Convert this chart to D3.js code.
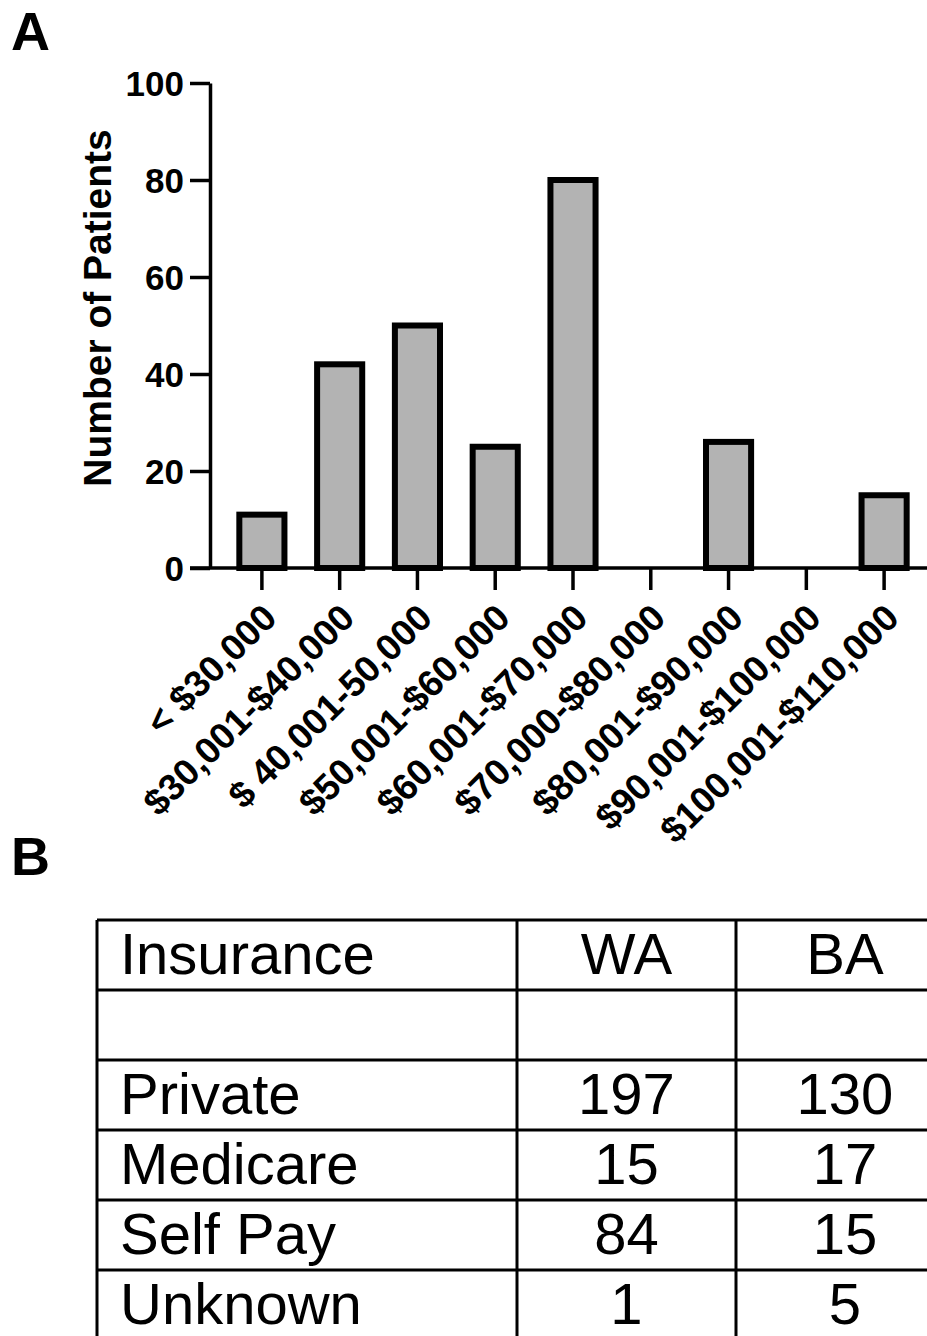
<!DOCTYPE html>
<html>
<head>
<meta charset="utf-8">
<script src="https://cdn.jsdelivr.net/npm/d3@7"></script>
<style>
  body { margin: 0; background: #fff; }
  svg { display: block; font-family: "Liberation Sans", Arial, sans-serif; }
</style>
</head>
<body>
<svg width="927" height="1336"></svg>
<script>
// income brackets and patient counts (panel A)
const incomeBrackets = [
  "< $30,000", "$30,001-$40,000", "$ 40,001-50,000", "$50,001-$60,000",
  "$60,001-$70,000", "$70,000-$80,000", "$80,001-$90,000",
  "$90,001-$100,000", "$100,001-$110,000"
];
const patientCounts = [11, 42, 50, 25, 80, 0, 26, 0, 15];
const yTicks = [0, 20, 40, 60, 80, 100];

// insurance table (panel B)
const tableHeader = ["Insurance", "WA", "BA"];
const insuranceTypes = ["", "Private", "Medicare", "Self Pay", "Unknown"];
const waCounts = ["", 197, 15, 84, 1];
const baCounts = ["", 130, 17, 15, 5];

const svg = d3.select("svg");

// panel letters
svg.append("text").attr("x", 11).attr("y", 50)
  .style("font-size", "54px").style("font-weight", "bold").text("A");
svg.append("text").attr("x", 11).attr("y", 875)
  .style("font-size", "54px").style("font-weight", "bold").text("B");

// ---- bar chart ----
const axisX = 210;
const y = d3.scaleLinear().domain([0, 100]).range([568, 83]);
const x = d3.scaleBand()
  .domain(incomeBrackets)
  .range([223, 923])
  .paddingInner(0.42)
  .paddingOuter(0.21);

const chart = svg.append("g");

// bars
chart.selectAll("rect")
  .data(incomeBrackets.map((c, i) => ({ c, v: patientCounts[i] })).filter(d => d.v > 0))
  .enter()
  .append("rect")
  .attr("x", d => x(d.c))
  .attr("y", d => y(d.v))
  .attr("width", x.bandwidth())
  .attr("height", d => y(0) - y(d.v))
  .style("fill", "#b3b3b3")
  .style("stroke", "#000")
  .style("stroke-width", 6);

// y axis
const yAxis = chart.append("g")
  .attr("transform", `translate(${axisX},0)`)
  .call(d3.axisLeft(y).tickValues(yTicks).tickSize(20).tickSizeOuter(0).tickPadding(6));
yAxis.select(".domain").style("stroke-width", 3.5);
yAxis.selectAll(".tick line").style("stroke-width", 3.5);
yAxis.selectAll(".tick text")
  .style("font-size", "35px").style("font-weight", "bold")
  .attr("dy", "0.36em");

// x axis
const xAxis = chart.append("g")
  .attr("transform", `translate(0,${y(0)})`)
  .call(d3.axisBottom(x).tickSize(22).tickSizeOuter(0));
xAxis.select(".domain").remove();
xAxis.append("line")
  .attr("x1", axisX - 20).attr("x2", 927)
  .style("stroke", "#000").style("stroke-width", 3.5);
xAxis.selectAll(".tick line").style("stroke-width", 3.5);
xAxis.selectAll(".tick text")
  .attr("x", -2).attr("y", 33).attr("dy", "0.72em")
  .attr("transform", "rotate(-45 -2 33)")
  .style("text-anchor", "end")
  .style("font-size", "37px").style("font-weight", "bold");

// y axis title
svg.append("text")
  .attr("transform", "translate(111,308) rotate(-90)")
  .style("text-anchor", "middle")
  .style("font-size", "39px").style("font-weight", "bold")
  .text("Number of Patients");

// ---- table ----
const colEdges = [97, 517, 736, 954];
const rowCount = insuranceTypes.length + 1;
const row = d3.scaleBand().domain(d3.range(rowCount)).range([920, 920 + 70 * rowCount]);

const tableRows = [tableHeader].concat(
  insuranceTypes.map((t, i) => [t, waCounts[i], baCounts[i]])
);

const table = svg.append("g");

// horizontal lines
table.selectAll("line.h")
  .data(d3.range(rowCount + 1))
  .enter().append("line")
  .attr("class", "h")
  .attr("x1", colEdges[0]).attr("x2", colEdges[3])
  .attr("y1", i => i < rowCount ? row(i) : row(rowCount - 1) + row.bandwidth())
  .attr("y2", i => i < rowCount ? row(i) : row(rowCount - 1) + row.bandwidth())
  .style("stroke", "#000").style("stroke-width", 3);

// vertical lines
table.selectAll("line.v")
  .data(colEdges)
  .enter().append("line")
  .attr("class", "v")
  .attr("x1", d => d).attr("x2", d => d)
  .attr("y1", row(0)).attr("y2", row(rowCount - 1) + row.bandwidth())
  .style("stroke", "#000").style("stroke-width", 3);

// cell text
tableRows.forEach((r, ri) => {
  r.forEach((val, ci) => {
    table.append("text")
      .attr("x", ci === 0 ? colEdges[0] + 23 : (colEdges[ci] + colEdges[ci + 1]) / 2)
      .attr("y", row(ri) + 54)
      .style("text-anchor", ci === 0 ? "start" : "middle")
      .style("font-size", "58px")
      .text(val);
  });
});
</script>
</body>
</html>
